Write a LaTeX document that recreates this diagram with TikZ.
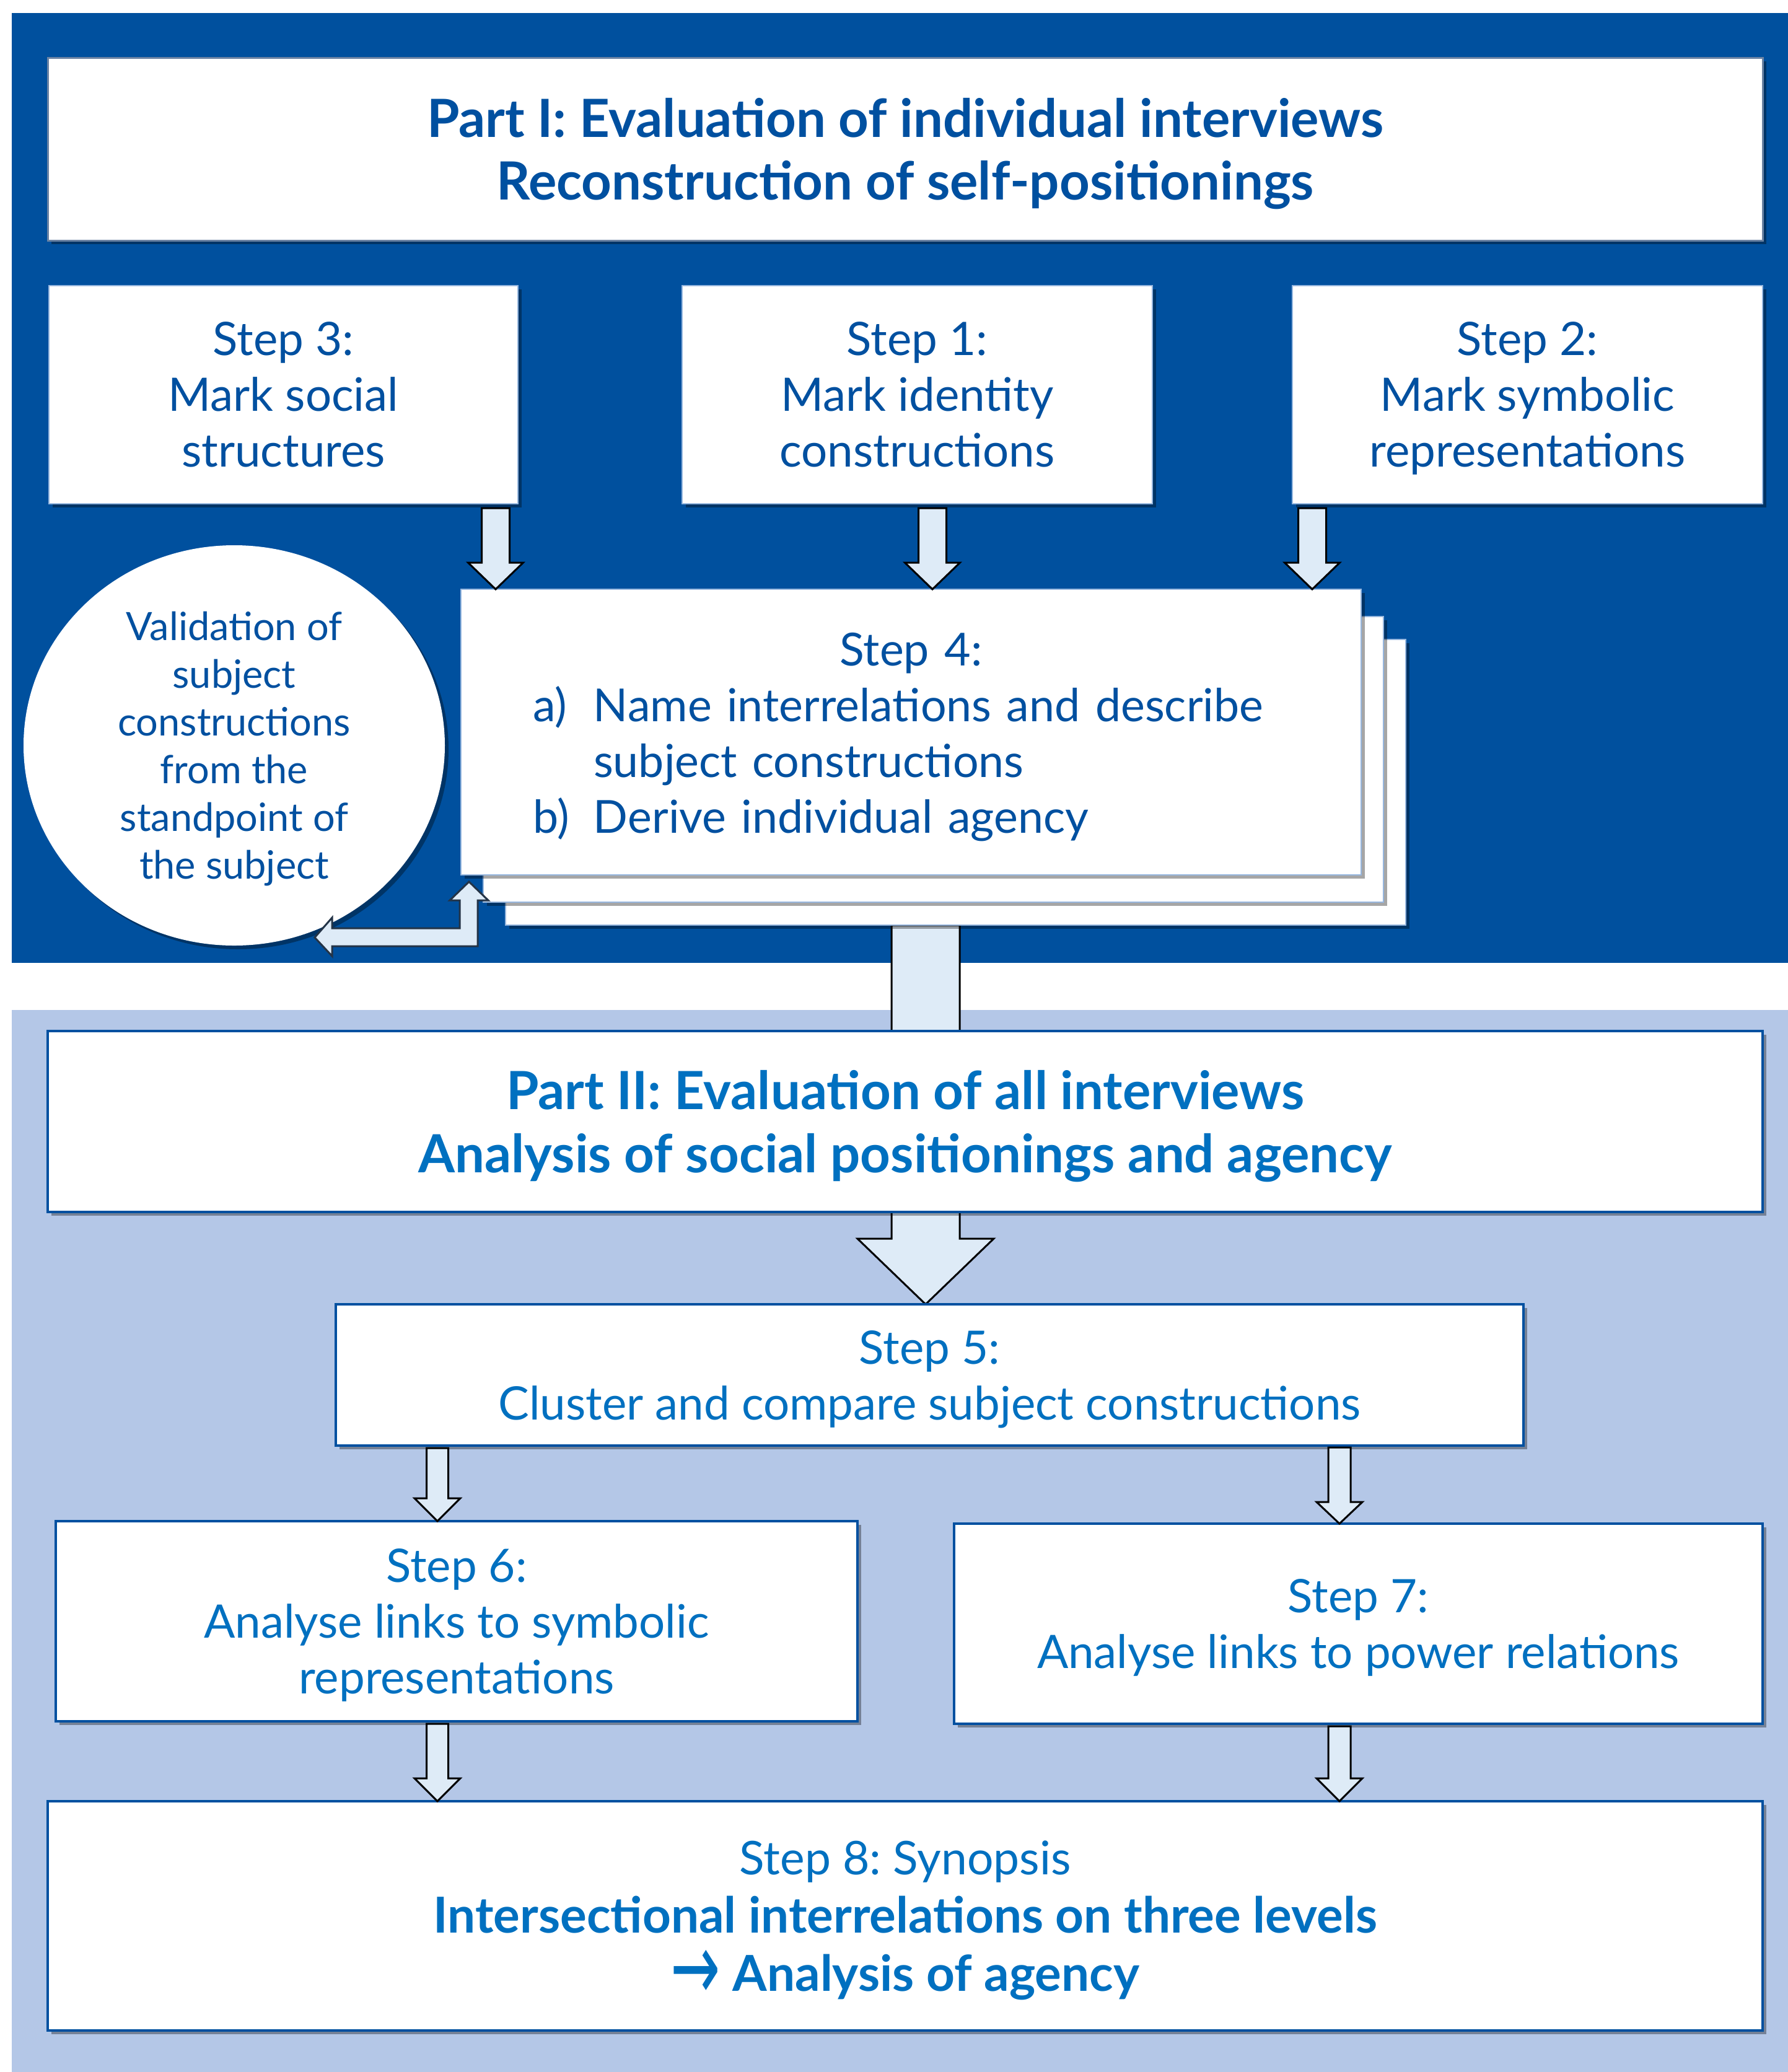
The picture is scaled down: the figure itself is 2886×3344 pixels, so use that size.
\documentclass[tikz,border=0pt]{standalone}
\usepackage{fontspec}
\usepackage{graphicx}
\setmainfont{Lato}
\newfontfamily\arrowfont{DejaVu Sans}
\frenchspacing
\usetikzlibrary{shapes.geometric,shadows,calc}
\definecolor{dkpanel}{RGB}{0,80,158}
\definecolor{ltpanel}{RGB}{180,199,231}
\definecolor{arrfill}{RGB}{222,235,247}
\definecolor{txtI}{RGB}{0,80,160}
\definecolor{txtII}{RGB}{0,112,192}
\definecolor{bordII}{RGB}{0,80,160}
\definecolor{bordIt}{RGB}{107,131,163}
\definecolor{bordIs}{RGB}{150,182,222}
\definecolor{fbline}{RGB}{36,52,71}
\pgfdeclarelayer{back}
\pgfdeclarelayer{mid}
\pgfsetlayers{back,mid,main}
% last line without descender depth (keeps vertical centring on the baseline)
\newcommand\nd[1]{\raisebox{0pt}[\height][0pt]{#1}}
\tikzset{
  shad/.style={drop shadow={shadow xshift=6pt,shadow yshift=-6pt,opacity=0.35,fill=black}},
  boxI/.style={rectangle,fill=white,draw=bordIs,line width=2pt,inner sep=0pt,outer sep=0pt,shad,align=center,text=txtI},
  titleboxI/.style={boxI,draw=bordIt,line width=3pt,font=\bfseries\fontsize{85}{101}\selectfont},
  stepboxI/.style={boxI,font=\fontsize{74.5}{90}\selectfont},
  boxII/.style={rectangle,fill=white,draw=bordII,line width=4pt,inner sep=0pt,outer sep=0pt,shad,align=center,text=txtII},
  titleboxII/.style={boxII,font=\bfseries\fontsize{85}{102}\selectfont},
  stepboxII/.style={boxII,font=\fontsize{74.5}{90}\selectfont},
  blockarr/.style={fill=arrfill,draw=black,line width=3pt,line join=miter},
  fbarr/.style={fill=arrfill,draw=fbline,line width=3pt,line join=miter},
}
% vertical block arrow: #1 x, #2 from node, #3 to node, #4 half shaft, #5 half head, #6 head length, #7 start gap
\newcommand\vblock[7]{%
  \draw[blockarr] let \p1=(#2.south), \p2=(#3.north) in
    ({#1pt-#4pt},{\y1-#7pt}) -- ({#1pt+#4pt},{\y1-#7pt}) -- ({#1pt+#4pt},{\y2+#6pt})
    -- ({#1pt+#5pt},{\y2+#6pt}) -- ({#1pt},{\y2}) -- ({#1pt-#5pt},{\y2+#6pt})
    -- ({#1pt-#4pt},{\y2+#6pt}) -- cycle;}
\begin{document}
\begin{tikzpicture}[x=1pt,y=-1pt]
\useasboundingbox (0,0) rectangle (2886,3344);
% panels
\begin{pgfonlayer}{back}
  \fill[white] (0,0) rectangle (2886,3344);
  \fill[dkpanel] (19,21) rectangle (2886,1554);
  \fill[ltpanel] (19,1630) rectangle (2886,3344);
\end{pgfonlayer}

% Part I
\node[titleboxI,minimum width=2768pt,minimum height=295pt] (t1) at (1461,240.5)
  {Part I: Evaluation of individual interviews\\\nd{Reconstruction of self-positionings}};
\node[stepboxI,minimum width=757pt,minimum height=352pt] (s3) at (457.5,637)
  {Step 3:\\Mark social\\\nd{structures}};
\node[stepboxI,minimum width=759pt,minimum height=352pt] (s1) at (1480.5,637)
  {Step 1:\\Mark identity\\\nd{constructions}};
\node[stepboxI,minimum width=759pt,minimum height=352pt] (s2) at (2465.5,637)
  {Step 2:\\Mark symbolic\\\nd{representations}};

% Step 4 stack
\node[boxI,minimum width=1453pt,minimum height=461pt] (s4c) at (1542.5,1262.5) {};
\node[boxI,minimum width=1453pt,minimum height=461pt] (s4b) at (1506.5,1225.5) {};
\node[boxI,minimum width=1453pt,minimum height=461pt] (s4a) at (1470.5,1181.5) {};
\node[text=txtI,font=\fontsize{73.5}{90}\selectfont,text width=1221pt,inner sep=0pt,align=left] (s4t) at (1470.5,1190)
  {{\centering Step 4:\par}
   \raggedright\makebox[98pt][l]{a)}Name interrelations and describe\\\hspace*{98pt}subject constructions\par
   \makebox[98pt][l]{b)}Derive individual agency};

% validation ellipse
\node[ellipse,fill=white,inner sep=0pt,shad,minimum width=680pt,minimum height=646pt,
      text=txtI,align=center,font=\fontsize{63}{77}\selectfont] (val) at (378,1203)
  {Validation of\\subject\\constructions\\from the\\standpoint of\\\nd{the subject}};

% Part II
\node[titleboxII,minimum width=2768pt,minimum height=292pt] (t2) at (1461,1810)
  {Part II: Evaluation of all interviews\\\nd{Analysis of social positionings and agency}};
\node[stepboxII,minimum width=1917pt,minimum height=228pt] (s5) at (1500.5,2219)
  {Step 5:\\\nd{Cluster and compare subject constructions}};
\node[stepboxII,minimum width=1294pt,minimum height=323pt] (s6) at (737,2616.5)
  {Step 6:\\Analyse links to symbolic\\\nd{representations}};
\node[stepboxII,minimum width=1305pt,minimum height=323pt] (s7) at (2192.5,2620.5)
  {Step 7:\\\nd{Analyse links to power relations}};
\node[stepboxII,minimum width=2768pt,minimum height=370pt,font=\fontsize{80}{94}\selectfont] (s8) at (1461,3092)
  {{\fontsize{75}{94}\selectfont Step 8: Synopsis}\\\textbf{Intersectional interrelations on three levels}\\
   \nd{\textbf{\raisebox{-14pt}[45pt][0pt]{\scalebox{1.2}[1.9]{\arrowfont\mdseries →}}~Analysis of agency}}};

% arrows
\begin{pgfonlayer}{mid}
  \vblock{1494}{s4c}{s5}{55}{110}{106}{0}
\end{pgfonlayer}
\vblock{800}{s3}{s4a}{22.5}{44.5}{43}{7}
\vblock{1505}{s1}{s4a}{22.5}{44.5}{43}{7}
\vblock{2118}{s2}{s4a}{22.5}{44.5}{43}{7}
\vblock{706}{s5}{s6}{17.5}{37}{37}{4}
\vblock{2162}{s5}{s7}{18}{37}{35}{3}
\vblock{706}{s6}{s8}{17.5}{37}{37}{4}
\vblock{2162}{s7}{s8}{18}{37}{37}{4}

% feedback arrow from Step 4 back to the validation ellipse
\coordinate (fbtip) at (757,1423);
\coordinate (fbend) at (508,1513);
\draw[fbarr] (fbtip) -- (788,1453) -- (771,1453) -- (771,1527) -- (536,1527) -- (536,1543)
  -- (fbend) -- (536,1481) -- (536,1498) -- (742,1498) -- (742,1453) -- (726,1453) -- cycle;
\end{tikzpicture}
\end{document}
